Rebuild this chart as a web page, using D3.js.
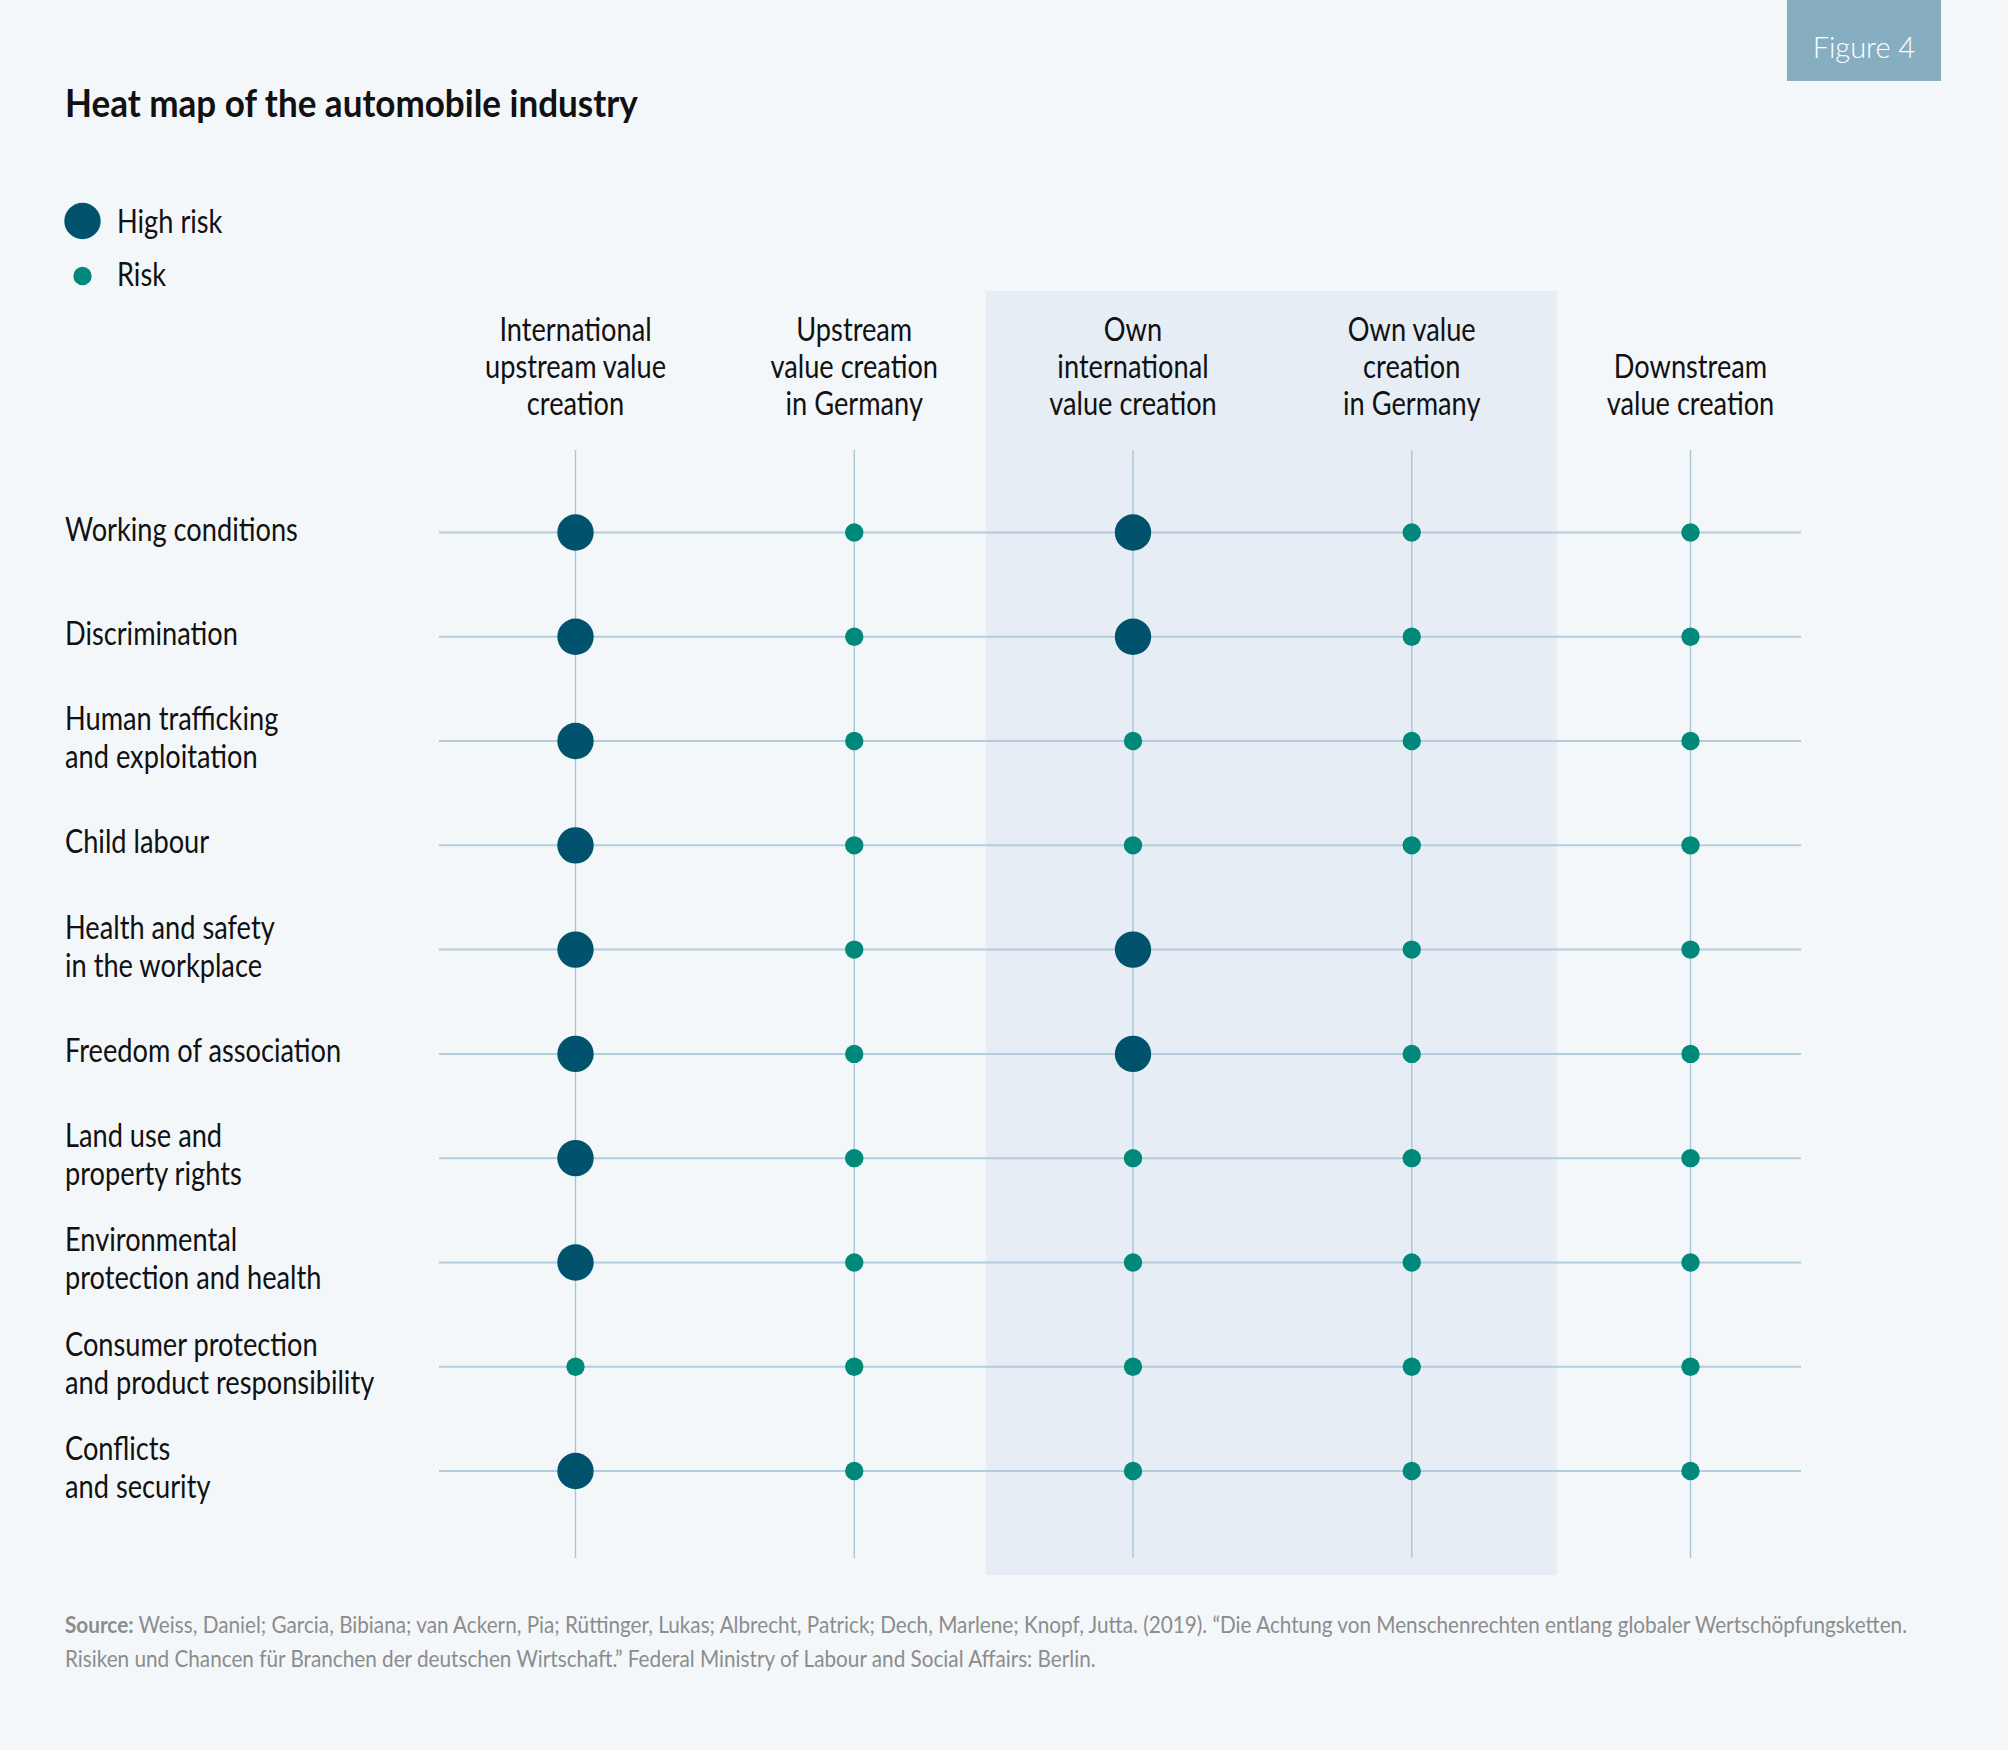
<!DOCTYPE html>
<html>
<head>
<meta charset="utf-8">
<script src="https://cdn.jsdelivr.net/npm/d3@7"></script>
<style>
  body { margin: 0; background: #f3f7fa; }
  text { font-family: Lato, "DejaVu Sans Condensed", sans-serif; }
</style>
</head>
<body>
<script>
// value chain stages (columns)
var stages = [
    ["International", "upstream value", "creation"],
    ["Upstream", "value creation", "in Germany"],
    ["Own", "international", "value creation"],
    ["Own value", "creation", "in Germany"],
    ["Downstream", "value creation"]
]
// human rights topics (rows)
var topics = [
    ["Working conditions"],
    ["Discrimination"],
    ["Human trafficking", "and exploitation"],
    ["Child labour"],
    ["Health and safety", "in the workplace"],
    ["Freedom of association"],
    ["Land use and", "property rights"],
    ["Environmental", "protection and health"],
    ["Consumer protection", "and product responsibility"],
    ["Conflicts", "and security"]
]
// risk level per topic, one entry per stage: 2 = high risk, 1 = risk
var intlUpstream = [2, 2, 2, 2, 2, 2, 2, 2, 1, 2]
var upstreamGermany = [1, 1, 1, 1, 1, 1, 1, 1, 1, 1]
var ownIntl = [2, 2, 1, 1, 2, 2, 1, 1, 1, 1]
var ownGermany = [1, 1, 1, 1, 1, 1, 1, 1, 1, 1]
var downstream = [1, 1, 1, 1, 1, 1, 1, 1, 1, 1]
var riskLevels = [intlUpstream, upstreamGermany, ownIntl, ownGermany, downstream]
var legendItems = [{label: "High risk", level: 2}, {label: "Risk", level: 1}]

var width = 2008
var height = 1750

const svg = d3.select('body')
    .append("svg")
    .attr("width", width)
    .attr("height", height)

svg.append("rect").attr("width", width).attr("height", height).attr("fill", "#f3f7fa")

//the original uses a condensed face; squeeze a normal one to the same widths
function squeeze(str, size, weight, target) {
    const t = svg.append("text").attr("font-size", size).attr("font-weight", weight).text(str)
    const w = t.node().getComputedTextLength()
    t.remove()
    return w > 0 ? target / w : 1
}
const bodySx = squeeze("Working conditions", 32, "normal", 233)
const titleSx = squeeze("Heat map of the automobile industry", 39, "bold", 573)
const srcSx = squeeze("Weiss, Daniel; Garcia, Bibiana; van Ackern, Pia; Rüttinger, Lukas; Albrecht, Patrick; Dech, Marlene; Knopf, Jutta. (2019). “Die Achtung von Menschenrechten entlang globaler Wertschöpfungsketten.", 23, "normal", 1848 - 78)

//multi-line text block, squeezed horizontally around its anchor
function block(parent, lines, x, y, lh, size, sx, anchor) {
    const g = parent.append("g").attr("transform", "translate(" + x + "," + y + ") scale(" + sx + ",1)")
    const t = g.append("text")
        .attr("font-size", size)
        .attr("fill", "#111")
        .attr("text-anchor", anchor || "start")
    lines.forEach((s, j) => {
        t.append("tspan").attr("x", 0).attr("y", j * lh).text(s)
    })
    return t
}

const stageIdx = d3.range(stages.length)
const topicIdx = d3.range(topics.length)

const xScale = d3.scalePoint().domain(stageIdx).range([575.5, 1690.5])
const yScale = d3.scalePoint().domain(topicIdx).range([532.5, 1471])
const rScale = d3.scaleOrdinal().domain([1, 2]).range([9.2, 18.2])
const colorScale = d3.scaleOrdinal().domain([1, 2]).range(["#00897b", "#01536d"])

//shaded band behind the company's own value creation
svg.append("rect")
    .attr("x", xScale(2) - 147)
    .attr("y", 291)
    .attr("width", xScale(3) + 145 - (xScale(2) - 147))
    .attr("height", 1575 - 291)
    .attr("fill", "#e6edf4")

//Figure tag
svg.append("rect")
    .attr("x", 1787).attr("y", 0).attr("width", 154).attr("height", 81)
    .attr("fill", "#87adc1")
svg.append("text")
    .attr("x", 1864).attr("y", 58)
    .attr("text-anchor", "middle")
    .attr("font-weight", 300)
    .attr("font-size", "29px")
    .attr("fill", "#ffffff")
    .text("Figure 4")

//Title
block(svg, ["Heat map of the automobile industry"], 65, 117, 0, 39, titleSx)
    .attr("font-weight", "bold")

//Legend
const legend = svg.append("g")
legend.selectAll("circle").data(legendItems).enter().append("circle")
    .attr("cx", 82.5)
    .attr("cy", (d, i) => 221 + i * 55)
    .attr("r", d => rScale(d.level))
    .attr("fill", d => colorScale(d.level))
legendItems.forEach((d, i) => block(legend, [d.label], 117, 233 + i * 53, 0, 32, bodySx))

//grid lines
const grid = svg.append("g")
grid.selectAll("line.v").data(stageIdx).enter().append("line")
    .attr("class", "v")
    .attr("x1", d => xScale(d)).attr("x2", d => xScale(d))
    .attr("y1", 450).attr("y2", 1558)
    .attr("stroke", "#aac5d5").attr("stroke-width", 1.4)
grid.selectAll("line.h").data(topicIdx).enter().append("line")
    .attr("class", "h")
    .attr("x1", 439).attr("x2", 1801)
    .attr("y1", d => yScale(d)).attr("y2", d => yScale(d))
    .attr("stroke", "#b4ccdb").attr("stroke-width", 2)

//column headers, bottom aligned
const headers = svg.append("g")
stages.forEach((lines, i) => {
    block(headers, lines, xScale(i), 415.5 - (lines.length - 1) * 37.5, 37.5, 32, bodySx, "middle")
})

//row labels
const rowLabels = svg.append("g")
topics.forEach((lines, i) => {
    block(rowLabels, lines, 65, yScale(i) + 8 - (lines.length - 1) * 19, 38, 32, bodySx)
})

//dots
const cells = []
riskLevels.forEach((col, c) => col.forEach((v, r) => cells.push({c: c, r: r, v: v})))
svg.append("g").selectAll("circle").data(cells).enter().append("circle")
    .attr("cx", d => xScale(d.c))
    .attr("cy", d => yScale(d.r))
    .attr("r", d => rScale(d.v))
    .attr("fill", d => colorScale(d.v))

//Source
const src = svg.append("g").attr("transform", "translate(65,1633) scale(" + srcSx + ",1)")
const s1 = src.append("text").attr("font-size", 23).attr("fill", "#8c8c8c")
s1.append("tspan").attr("font-weight", "bold").text("Source:")
s1.append("tspan").text(" Weiss, Daniel; Garcia, Bibiana; van Ackern, Pia; Rüttinger, Lukas; Albrecht, Patrick; Dech, Marlene; Knopf, Jutta. (2019). “Die Achtung von Menschenrechten entlang globaler Wertschöpfungsketten.")
src.append("text").attr("font-size", 23).attr("fill", "#8c8c8c").attr("y", 34)
    .text("Risiken und Chancen für Branchen der deutschen Wirtschaft.” Federal Ministry of Labour and Social Affairs: Berlin.")
</script>
</body>
</html>
